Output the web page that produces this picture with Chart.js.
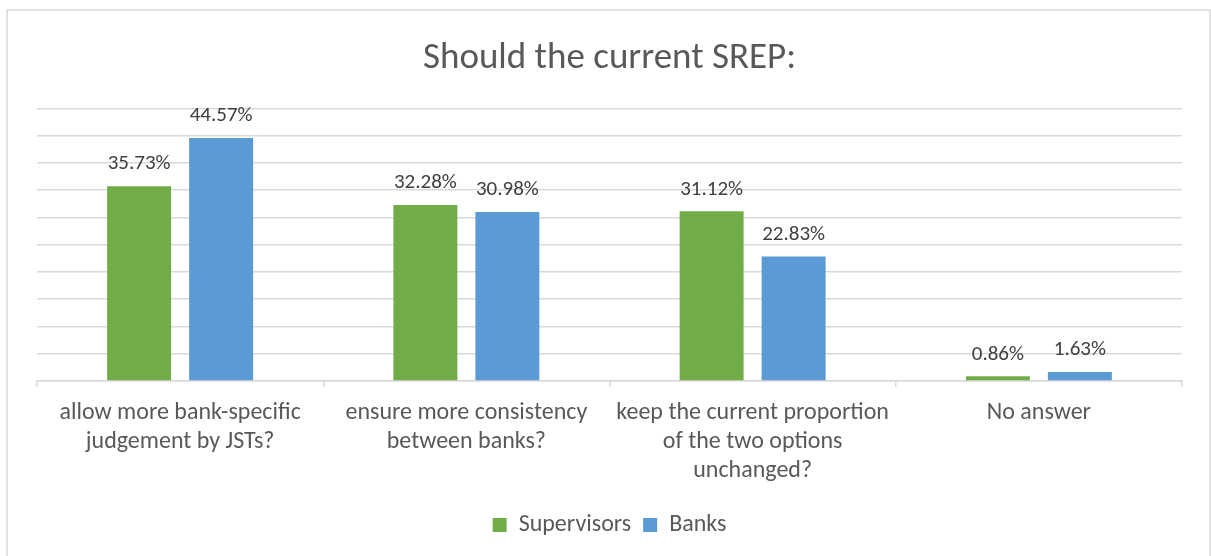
<!DOCTYPE html>
<html>
<head>
<meta charset="utf-8">
<title>Should the current SREP:</title>
<script src="https://cdn.jsdelivr.net/npm/chart.js@4/dist/chart.umd.min.js"></script>
<style>
  html, body { margin: 0; padding: 0; background: #ffffff; }
  #wrap { width: 1211px; height: 556px; }
</style>
</head>
<body>
<div id="wrap"><canvas id="chart" width="1211" height="556"></canvas></div>
<script>
// Survey answers, share of respondents (%)
const categories = [
  ['allow more bank-specific', 'judgement by JSTs?'],
  ['ensure more consistency', 'between banks?'],
  ['keep the current proportion', 'of the two options', 'unchanged?'],
  'No answer'
];
const supervisors = [35.73, 32.28, 31.12, 0.86];
const banks = [44.57, 30.98, 22.83, 1.63];
const seriesNames = ['Supervisors', 'Banks'];
const chartTitle = 'Should the current SREP:';

const FONT = "Carlito, Lato, 'Open Sans', sans-serif";
const GRID = '#d9d9d9';

// Light frame around the whole chart
const framePlugin = {
  id: 'frame',
  beforeDraw(chart) {
    const ctx = chart.ctx;
    ctx.save();
    ctx.fillStyle = '#ffffff';
    ctx.fillRect(0, 0, chart.width, chart.height);
    ctx.strokeStyle = GRID;
    ctx.lineWidth = 1.5;
    ctx.strokeRect(7, 10, 1203, 600);
    ctx.restore();
  }
};

// Percent label above every bar
const valueLabels = {
  id: 'valueLabels',
  afterDatasetsDraw(chart) {
    const ctx = chart.ctx;
    ctx.save();
    ctx.font = '21px ' + FONT;
    ctx.fillStyle = '#404040';
    ctx.textAlign = 'center';
    ctx.textBaseline = 'middle';
    chart.data.datasets.forEach((ds, i) => {
      chart.getDatasetMeta(i).data.forEach((bar, j) => {
        ctx.fillText(ds.data[j].toFixed(2) + '%', bar.x, bar.y - 22);
      });
    });
    ctx.restore();
  }
};

new Chart(document.getElementById('chart'), {
  type: 'bar',
  data: {
    labels: categories,
    datasets: [
      { label: seriesNames[0], data: supervisors, backgroundColor: '#70ad47' },
      { label: seriesNames[1], data: banks, backgroundColor: '#5b9bd5' }
    ]
  },
  options: {
    responsive: false,
    animation: false,
    events: [],
    layout: { padding: { top: 0, left: 37, right: 29, bottom: 9 } },
    datasets: {
      bar: { categoryPercentage: 0.573, barPercentage: 0.78 }
    },
    plugins: {
      title: {
        display: true,
        text: chartTitle,
        color: '#595959',
        font: { family: FONT, size: 37, weight: 'normal', lineHeight: 1.2 },
        padding: { top: 37, bottom: 27 }
      },
      legend: {
        position: 'bottom',
        labels: {
          color: '#595959',
          font: { family: FONT, size: 24 },
          boxWidth: 14,
          boxHeight: 14,
          padding: 12
        }
      },
      tooltip: { enabled: false }
    },
    scales: {
      x: {
        border: { display: true, color: GRID, width: 1.5 },
        grid: {
          display: true,
          drawOnChartArea: false,
          drawTicks: true,
          tickLength: 6,
          offset: true,
          color: GRID,
          lineWidth: 1.5
        },
        ticks: {
          color: '#595959',
          font: { family: FONT, size: 24, lineHeight: 1.21 },
          maxRotation: 0,
          autoSkip: false,
          padding: 11
        },
        afterFit(scale) { scale.height = 120; }
      },
      y: {
        min: 0,
        max: 50,
        border: { display: false },
        grid: { color: GRID, lineWidth: 1.5, drawTicks: false },
        ticks: { display: false, stepSize: 5 },
        afterFit(scale) { scale.width = 0; }
      }
    }
  },
  plugins: [framePlugin, valueLabels]
});
</script>
</body>
</html>
